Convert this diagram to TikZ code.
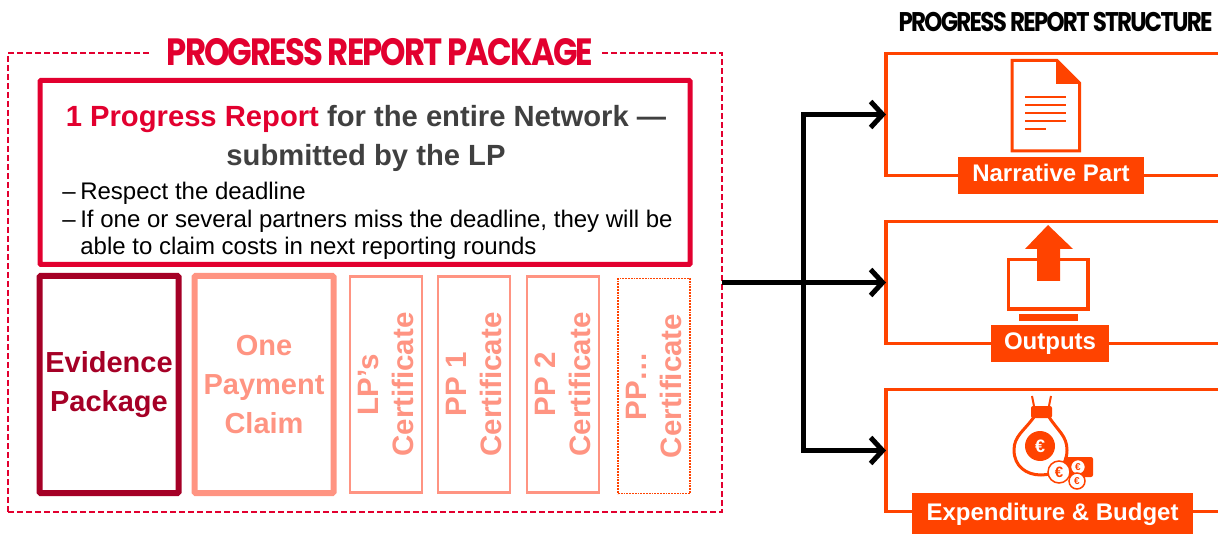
\documentclass[tikz,border=0pt]{standalone}
\usepackage{fontspec}
\setmainfont{Liberation Sans}
\newfontfamily\titlefont[FakeStretch=0.85,LetterSpace=-5]{Poppins}
\newfontfamily\smalltitlefont[FakeStretch=0.85,LetterSpace=-6.4]{Poppins}
\usetikzlibrary{arrows.meta,positioning}
\definecolor{crimson}{HTML}{E2002F}
\definecolor{wine}{HTML}{A50026}
\definecolor{salmon}{HTML}{FF9482}
\definecolor{flame}{HTML}{FF4300}
\definecolor{slate}{HTML}{404040}
\begin{document}
\begin{tikzpicture}[x=1pt,y=-1pt,outer sep=0pt,
    main/.style = {draw=crimson, line width=5pt, rounded corners=1pt, minimum width=650pt, minimum height=184pt},
    tall/.style = {line width=6pt, rounded corners=1pt, minimum width=139pt, minimum height=217pt, align=center, font=\fontsize{29}{39}\selectfont\bfseries},
    cert/.style = {draw=salmon, line width=2.5pt, minimum width=72pt, minimum height=216pt},
    vert/.style = {rotate=90, align=center, text=salmon, font=\fontsize{29.5}{35}\selectfont\bfseries},
    part/.style = {draw=flame, line width=3.5pt, minimum width=340pt, minimum height=122pt},
    tag/.style = {fill=flame, text=white, minimum height=37pt, text height=17pt, text depth=5pt, font=\fontsize{24}{30}\selectfont\bfseries},
    conn/.style = {line width=5pt, -{Straight Barb[length=12pt,width=26pt,line width=5pt]}},
    coin/.style = {draw=flame, fill=white, line width=1.5pt}]
    \useasboundingbox (0,0) rectangle (1218,534);

    % package
    \node[draw=crimson, line width=1.5pt, dash pattern=on 6pt off 3pt, minimum width=714pt, minimum height=459pt] (pkg) at (365,282.5) {};
    \node[fill=white, minimum width=452pt, minimum height=30pt, text=crimson, font=\titlefont\fontsize{38}{40}\selectfont\bfseries] (title) at (376,52) {\hspace*{8pt}PROGRESS REPORT PACKAGE};
    \node[main] (report) at (365,172.5) {};
    \node[align=center, text=slate, font=\fontsize{29.2}{39}\selectfont\bfseries] (head) at (366,138) {\textcolor{crimson}{1 Progress Report} for the entire Network ---\\submitted by the LP};
    \node[align=left, anchor=north west, font=\fontsize{24}{27.5}\selectfont] (rules) at (59,179) {\makebox[18pt][l]{--}Respect the deadline\\\makebox[18pt][l]{--}If one or several partners miss the deadline, they will be\\\makebox[18pt][l]{}able to claim costs in next reporting rounds};

    \node[tall, draw=wine, text=wine] (evidence) at (109,384.5) {Evidence\\Package};
    \node[tall, draw=salmon, text=salmon] (claim) at (264,384.5) {One\\Payment\\Claim};
    \node[cert] (lp) at (386,384.5) {};
    \node[cert, right=16pt of lp] (pp1) {};
    \node[cert, right=17pt of pp1] (pp2) {};
    \node[draw=flame, line width=1.8pt, densely dotted, minimum width=72pt, minimum height=215pt] (ppn) at (654,386) {};
    \node[vert] at (lp) {LP’s\\Certificate};
    \node[vert] at (pp1) {PP 1\\Certificate};
    \node[vert] at (pp2) {PP 2\\Certificate};
    \node[vert] at (ppn) {PP…\\Certificate};

    % structure
    \node[font=\smalltitlefont\fontsize{27}{30}\selectfont\bfseries, inner sep=0pt] (struct) at (1055.5,22) {PROGRESS REPORT STRUCTURE};
    \node[part, anchor=west] (narrative) at (886,114.5) {};
    \node[part, anchor=west] (outputs) at (886,282.5) {};
    \node[part, anchor=west] (budget) at (886,450.5) {};
    \node[tag, minimum width=186pt] (narrativetag) at (1051,175.5) {Narrative Part};
    \node[tag, minimum width=118pt] (outputstag) at (1050,344) {Outputs};
    \node[tag, minimum width=281pt, minimum height=42pt] (budgettag) at (1052.5,514) {Expenditure \& Budget};

    % document icon
    \draw[flame, line width=3pt] (1012,60.5) -- (1057,60.5) -- (1079.5,83) -- (1079.5,151) -- (1012,151) -- cycle;
    \fill[flame] (1056,60) -- (1081,84) -- (1056,84) -- cycle;
    \foreach \y in {97,105,113,121}
        \draw[flame, line width=1.5pt] (1025,\y) -- (1066,\y);
    \draw[flame, line width=1.5pt] (1025,129) -- (1046,129);

    % monitor icon
    \draw[flame, line width=3.5pt] (1008.5,259.5) rectangle (1088,309);
    \fill[flame] (1019,314) rectangle (1078,321);
    \fill[flame] (1048,225) -- (1073,249) -- (1060,249) -- (1060,281) -- (1037,281) -- (1037,249) -- (1025,249) -- cycle;

    % money icon
    \draw[flame, line width=3pt] (1034,417) .. controls (1024,431) and (1014,436) .. (1014,450) .. controls (1014,466) and (1026,475) .. (1041,475) .. controls (1056,475) and (1067,466) .. (1067,450) .. controls (1067,436) and (1058,431) .. (1049,417);
    \fill[flame, rounded corners=2pt] (1031,406) rectangle (1052,418);
    \draw[flame, line width=2pt] (1034,406) -- (1032,396) (1049,406) -- (1051,396);
    \node[circle, fill=flame, text=white, minimum size=30pt, inner sep=0pt, font=\fontsize{18}{18}\selectfont\bfseries] (euro) at (1040,446) {€};
    \fill[flame, rounded corners=2pt] (1064,457) rectangle (1093,477);
    \node[coin, circle, minimum size=22pt, inner sep=0pt, text=flame, font=\fontsize{15}{15}\selectfont\bfseries] (coina) at (1059,472) {€};
    \node[coin, circle, minimum size=15pt, inner sep=0pt, text=flame, font=\fontsize{10}{10}\selectfont\bfseries] (coinb) at (1078,467) {€};
    \node[coin, circle, minimum size=16pt, inner sep=0pt, text=flame, font=\fontsize{10}{10}\selectfont\bfseries] (coinc) at (1077,481) {€};

    % connectors
    \coordinate (split) at (803,282.5);
    \draw[conn] (pkg.east) -- (outputs.west);
    \draw[conn] (split) |- (narrative.west);
    \draw[conn] (split) |- (budget.west);
\end{tikzpicture}
\end{document}
